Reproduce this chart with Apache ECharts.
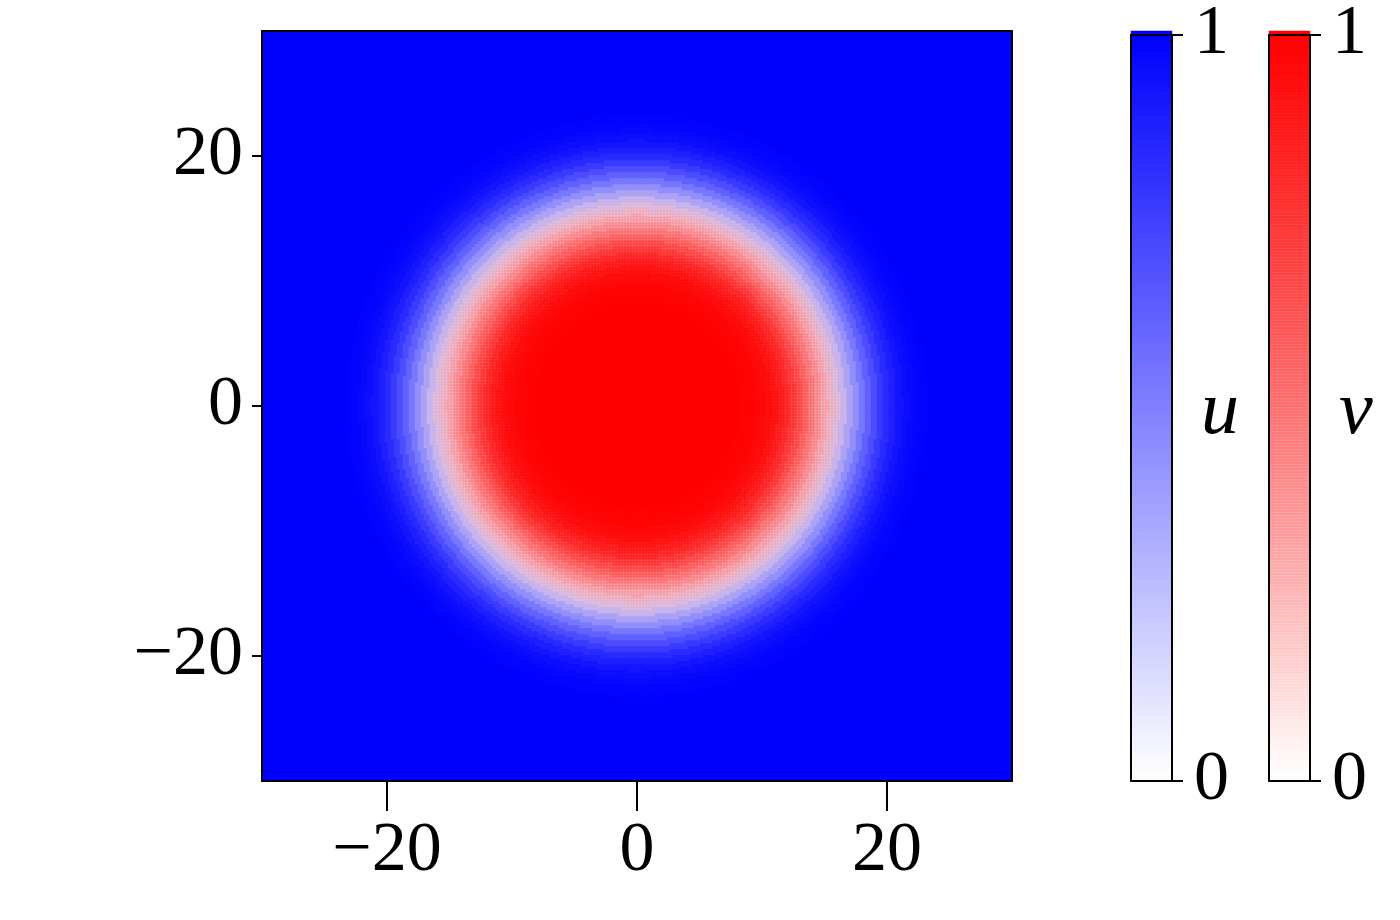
<!DOCTYPE html>
<html>
<head>
<meta charset="utf-8">
<script src="https://cdn.jsdelivr.net/npm/echarts@6/dist/echarts.min.js"></script>
<style>
  html, body { margin: 0; padding: 0; background: #ffffff; }
  #chart { width: 1400px; height: 920px; }
</style>
</head>
<body>
<div id="chart"></div>
<script>
// ---- values ----
// radial profile (distance from the centre of the domain) of the two fields
const profileRadius = [8, 8.5, 9, 9.5, 10, 10.5, 11, 11.5, 12, 12.5, 13, 13.5, 14, 14.5, 15, 15.5,
                       16, 16.5, 17, 17.5, 18, 18.5, 19, 19.5, 20, 20.5, 21, 21.5, 22, 22.5, 23, 23.5, 24];
const uProfile = [0, 0, 0, 0, 0, 0, 0, 0, 0, 0, 0, 0, 0.01, 0.03, 0.05, 0.09,
                  0.15, 0.23, 0.33, 0.43, 0.53, 0.62, 0.70, 0.77, 0.83, 0.88, 0.92, 0.95, 0.97, 0.98, 0.99, 1, 1];
const vProfile = [1, 0.99, 0.98, 0.97, 0.95, 0.93, 0.89, 0.84, 0.78, 0.70, 0.62, 0.53, 0.44, 0.35, 0.26, 0.18,
                  0.11, 0.06, 0.03, 0.01, 0, 0, 0, 0, 0, 0, 0, 0, 0, 0, 0, 0, 0];
const domain = [-30, 30];
const gridCells = 250;
const axisTicks = [-20, 0, 20];
const colorbarTicks = [0, 1];
const colorbarSteps = 250;

// ---- build the cell tables from the read profile (nearest profile sample) ----
function profileAt(profile, r) {
  if (r <= profileRadius[0]) return profile[0];
  if (r >= profileRadius[profileRadius.length - 1]) return profile[profile.length - 1];
  let best = 0, bestD = Infinity;
  for (let k = 0; k < profileRadius.length; k++) {
    const d = Math.abs(profileRadius[k] - r);
    if (d < bestD) { bestD = d; best = k; }
  }
  return profile[best];
}
const cellSize = (domain[1] - domain[0]) / gridCells;
const cellCentres = [];
for (let i = 0; i < gridCells; i++) cellCentres.push((domain[0] + (i + 0.5) * cellSize).toFixed(3));
const uCells = [], vCells = [];
for (let i = 0; i < gridCells; i++) {
  const x = +cellCentres[i];
  for (let j = 0; j < gridCells; j++) {
    const y = +cellCentres[j];
    const r = Math.sqrt(x * x + y * y);
    uCells.push([i, j, profileAt(uProfile, r)]);
    const v = profileAt(vProfile, r);
    if (v > 0) vCells.push([i, j, v]);
  }
}
const barCats = [], uBar = [], vBar = [];
for (let k = 0; k < colorbarSteps; k++) {
  barCats.push(String(k));
  uBar.push([0, k, k / (colorbarSteps - 1)]);
  vBar.push([0, k, k / (colorbarSteps - 1)]);
}

const FONT = "'Liberation Serif', 'DejaVu Serif', serif";
const labelStyle = { color: '#000', fontFamily: FONT, fontSize: 70 };
const minusFmt = v => String(v).replace('-', '\u2212');

const mainRect = { left: 262, top: 31, width: 750, height: 750 };
const uRect = { left: 1131, top: 31, width: 41, height: 750 };
const vRect = { left: 1269, top: 31, width: 41, height: 750 };

function hiddenCat(gridIndex, data) {
  return { type: 'category', gridIndex, data, show: false, boundaryGap: true };
}
function frameAxis(gridIndex, position, kind, opts) {
  const ax = Object.assign({
    type: 'value', gridIndex, position, z: 10,
    min: kind === 'main' ? domain[0] : 0,
    max: kind === 'main' ? domain[1] : 1,
    axisLine: { show: true, onZero: false, lineStyle: { color: '#000', width: 2 } },
    axisTick: { show: false },
    axisLabel: { show: false },
    splitLine: { show: false }
  }, opts || {});
  return ax;
}

const chart = echarts.init(document.getElementById('chart'), null, { renderer: 'canvas' });
chart.setOption({
  animation: false,
  backgroundColor: '#ffffff',
  grid: [
    Object.assign({}, mainRect),  // 0 heatmap cells
    Object.assign({}, mainRect),  // 1 main frame + ticks
    Object.assign({}, uRect),     // 2 u colorbar cells
    Object.assign({}, uRect),     // 3 u colorbar frame
    Object.assign({}, vRect),     // 4 v colorbar cells
    Object.assign({}, vRect)      // 5 v colorbar frame
  ],
  xAxis: [
    hiddenCat(0, cellCentres),
    frameAxis(1, 'bottom', 'main', {
      axisTick: { show: true, customValues: axisTicks, length: 30, lineStyle: { color: '#000', width: 2 } },
      axisLabel: Object.assign({ show: true, customValues: axisTicks, margin: 36, formatter: minusFmt }, labelStyle)
    }),
    frameAxis(1, 'top', 'main'),
    hiddenCat(2, ['u']),
    frameAxis(3, 'bottom', 'bar'),
    frameAxis(3, 'top', 'bar'),
    hiddenCat(4, ['v']),
    frameAxis(5, 'bottom', 'bar'),
    frameAxis(5, 'top', 'bar')
  ],
  yAxis: [
    hiddenCat(0, cellCentres),
    frameAxis(1, 'left', 'main', {
      axisTick: { show: true, customValues: axisTicks, length: 10, lineStyle: { color: '#000', width: 2 } },
      axisLabel: Object.assign({ show: true, customValues: axisTicks, margin: 19, formatter: minusFmt }, labelStyle)
    }),
    frameAxis(1, 'right', 'main'),
    hiddenCat(2, barCats),
    frameAxis(3, 'left', 'bar'),
    frameAxis(3, 'right', 'bar', {
      axisTick: { show: true, customValues: colorbarTicks, length: 11, lineStyle: { color: '#000', width: 2 } },
      axisLabel: Object.assign({ show: true, customValues: colorbarTicks, margin: 22, showMinLabel: true, showMaxLabel: true }, labelStyle)
    }),
    hiddenCat(4, barCats),
    frameAxis(5, 'left', 'bar'),
    frameAxis(5, 'right', 'bar', {
      axisTick: { show: true, customValues: colorbarTicks, length: 11, lineStyle: { color: '#000', width: 2 } },
      axisLabel: Object.assign({ show: true, customValues: colorbarTicks, margin: 22, showMinLabel: true, showMaxLabel: true }, labelStyle)
    })
  ],
  visualMap: [
    { type: 'continuous', show: false, min: 0, max: 1, dimension: 2, seriesIndex: [0, 2],
      inRange: { color: ['#ffffff', '#0000ff'] } },
    { type: 'continuous', show: false, min: 0, max: 1, dimension: 2, seriesIndex: [1, 3],
      inRange: { color: ['rgba(255,0,0,0)', 'rgba(255,0,0,1)'] } }
  ],
  series: [
    { name: 'u', type: 'heatmap', xAxisIndex: 0, yAxisIndex: 0, data: uCells,
      progressive: 0, silent: true, z: 1 },
    { name: 'v', type: 'heatmap', xAxisIndex: 0, yAxisIndex: 0, data: vCells,
      progressive: 0, silent: true, z: 2 },
    { name: 'u bar', type: 'heatmap', xAxisIndex: 3, yAxisIndex: 3, data: uBar,
      progressive: 0, silent: true, z: 1 },
    { name: 'v bar', type: 'heatmap', xAxisIndex: 6, yAxisIndex: 6, data: vBar,
      progressive: 0, silent: true, z: 1 }
  ],
  graphic: [
    { type: 'text', x: 1201, y: 413, z: 20,
      style: { text: 'u', font: 'italic 76px ' + FONT, fill: '#000', align: 'left', verticalAlign: 'middle' } },
    { type: 'text', x: 1339, y: 413, z: 20,
      style: { text: 'v', font: 'italic 76px ' + FONT, fill: '#000', align: 'left', verticalAlign: 'middle' } }
  ]
});
</script>
</body>
</html>
